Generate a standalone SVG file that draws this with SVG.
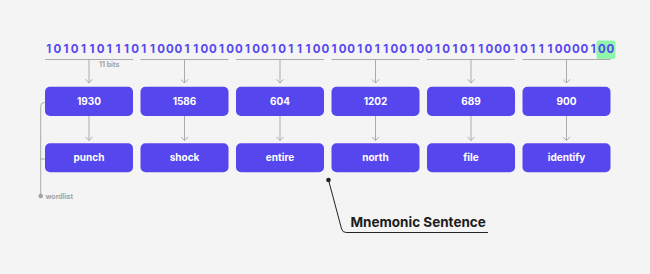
<svg xmlns="http://www.w3.org/2000/svg" width="650" height="274" viewBox="0 0 650 274">
<style>
.bits{font-family:Inter,"Liberation Sans",sans-serif;font-size:11.5px;font-weight:700;fill:#5748f0;text-anchor:middle}
.box{fill:#5546ee}
.lbl{font-family:Inter,"Liberation Sans",sans-serif;font-size:10px;font-weight:700;fill:#ffffff;text-anchor:middle}
.ln{stroke:#ababab;stroke-width:1;fill:none}
.small{font-family:Inter,"Liberation Sans",sans-serif;font-size:7px;font-weight:700;fill:#a3a3a3}
</style>
<defs>
<marker id="ah" viewBox="0 0 8 8" refX="5.5" refY="4" markerWidth="8" markerHeight="8" markerUnits="userSpaceOnUse" orient="auto">
<path d="M1.8,0.4 L5.5,4 L1.8,7.6" fill="none" stroke="#ababab" stroke-width="1"/>
</marker>
</defs>
<rect width="650" height="274" fill="#f4f4f4"/>
<rect x="596.5" y="40.5" width="19" height="18.5" rx="2.5" fill="#8ef5a9"/>
<g id="bits">
<text class="bits" y="53.3" x="48.8 57.44 66.08 74.72 83.36 92 100.64 109.28 117.92 126.56 135.2 143.84 152.48 161.12 169.76 178.4 187.04 195.68 204.32 212.96 221.6 230.24 238.88 247.52 256.16 264.8 273.44 282.08 290.72 299.36 308 316.64 325.28 333.92 342.56 351.2 359.84 368.48 377.12 385.76 394.4 403.04 411.68 420.32 428.96 437.6 446.24 454.88 463.52 472.16 480.8 489.44 498.08 506.72 515.36 524 532.64 541.28 549.92 558.56 567.2 575.84 584.48 593.12 601.76 610.4">101011011101100011001001001011100100101100100101011000101110000100</text>
<text class="small" x="99" y="67">11 bits</text>
</g>
<g id="connectors">
<path class="ln" d="M45,59.5H133M140.5,59.5H228.5M236,59.5H324M331.5,59.5H419.5M427,59.5H515M522.5,59.5H610.5"/>
<path class="ln" marker-end="url(#ah)" d="M89,59.5V83"/>
<path class="ln" marker-end="url(#ah)" d="M184.5,59.5V83"/>
<path class="ln" marker-end="url(#ah)" d="M280,59.5V83"/>
<path class="ln" marker-end="url(#ah)" d="M375.5,59.5V83"/>
<path class="ln" marker-end="url(#ah)" d="M471,59.5V83"/>
<path class="ln" marker-end="url(#ah)" d="M566.5,59.5V83"/>
<path class="ln" marker-end="url(#ah)" d="M89,116V140.5"/>
<path class="ln" marker-end="url(#ah)" d="M184.5,116V140.5"/>
<path class="ln" marker-end="url(#ah)" d="M280,116V140.5"/>
<path class="ln" marker-end="url(#ah)" d="M375.5,116V140.5"/>
<path class="ln" marker-end="url(#ah)" d="M471,116V140.5"/>
<path class="ln" marker-end="url(#ah)" d="M566.5,116V140.5"/>
<path class="ln" d="M45,102.5H44.5Q40.7,102.5 40.7,106.3V196M40.7,159H45"/>
<circle cx="40.7" cy="196" r="2.3" fill="#a3a3a3"/>
<path d="M328.5,180L341.6,229Q342.6,232.5 346.2,232.5H488" fill="none" stroke="#222" stroke-width="1"/>
<circle cx="328.5" cy="180" r="2.3" fill="#222"/>
</g>
<text class="small" x="45.5" y="198.5">wordlist</text>
<g id="n1930"><rect class="box" x="45" y="86.7" width="88" height="29.3" rx="5"/><text class="lbl" x="89" y="104.8">1930</text></g>
<g id="n1586"><rect class="box" x="140.5" y="86.7" width="88" height="29.3" rx="5"/><text class="lbl" x="184.5" y="104.8">1586</text></g>
<g id="n604"><rect class="box" x="236" y="86.7" width="88" height="29.3" rx="5"/><text class="lbl" x="280" y="104.8">604</text></g>
<g id="n1202"><rect class="box" x="331.5" y="86.7" width="88" height="29.3" rx="5"/><text class="lbl" x="375.5" y="104.8">1202</text></g>
<g id="n689"><rect class="box" x="427" y="86.7" width="88" height="29.3" rx="5"/><text class="lbl" x="471" y="104.8">689</text></g>
<g id="n900"><rect class="box" x="522.5" y="86.7" width="88" height="29.3" rx="5"/><text class="lbl" x="566.5" y="104.8">900</text></g>
<g id="punch"><rect class="box" x="45" y="143.3" width="88" height="29" rx="5"/><text class="lbl" x="89" y="161.3">punch</text></g>
<g id="shock"><rect class="box" x="140.5" y="143.3" width="88" height="29" rx="5"/><text class="lbl" x="184.5" y="161.3">shock</text></g>
<g id="entire"><rect class="box" x="236" y="143.3" width="88" height="29" rx="5"/><text class="lbl" x="280" y="161.3">entire</text></g>
<g id="north"><rect class="box" x="331.5" y="143.3" width="88" height="29" rx="5"/><text class="lbl" x="375.5" y="161.3">north</text></g>
<g id="file"><rect class="box" x="427" y="143.3" width="88" height="29" rx="5"/><text class="lbl" x="471" y="161.3">file</text></g>
<g id="identify"><rect class="box" x="522.5" y="143.3" width="88" height="29" rx="5"/><text class="lbl" x="566.5" y="161.3">identify</text></g>
<g id="mnemonic"><text x="350.5" y="226.7" font-family="Inter, 'Liberation Sans', sans-serif" font-size="13.5" font-weight="700" fill="#1c1c1c">Mnemonic Sentence</text></g>
</svg>
